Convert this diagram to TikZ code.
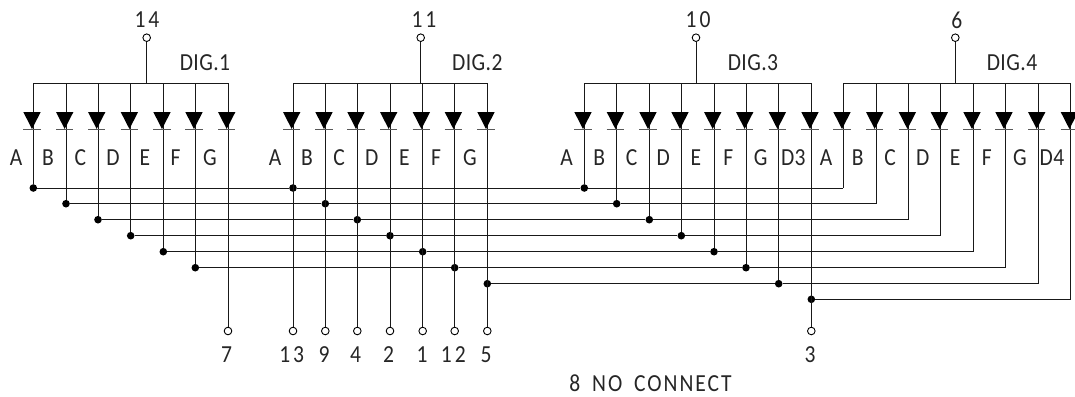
\documentclass[tikz,border=0pt]{standalone}
\usepackage{fontspec}
\newfontfamily\cadf[LetterSpace=2]{Carlito}
\newfontfamily\cadn[LetterSpace=14]{Carlito}
\newfontfamily\cadw[LetterSpace=9]{Carlito}
\tikzset{
  wire/.style={line width=1pt,black!90},
  jdot/.style={circle,fill=black,inner sep=0pt,minimum size=7.6pt},
  pad/.style={circle,draw=black,fill=white,line width=.9pt,inner sep=0pt,minimum size=7.6pt},
  lab/.style={font=\cadf\fontsize{24.5}{24.5}\selectfont,text=black!85,inner sep=0pt,xscale=.88,transform shape},
  num/.style={font=\cadn\fontsize{24.5}{24.5}\selectfont,text=black!85,inner sep=0pt,xscale=.88,transform shape},
  notelab/.style={font=\cadw\fontsize{24.5}{24.5}\selectfont,text=black!85,inner sep=0pt,xscale=.88,transform shape},
  dbar/.style={line width=.8pt,black!65},
}
\begin{document}
\begin{tikzpicture}[x=1pt,y=-1pt]
\useasboundingbox (0,0) rectangle (1075,396);
% digit common pads, stems and buses
\foreach \n/\sx/\xa/\xb/\t/\tx/\d/\dx in {
  1/146.7/33.3/228/14/147/DIG.1/205,
  2/420.7/293/487.3/11/424/DIG.2/477.3,
  3/696/584.3/811.3/10/698/DIG.3/753,
  4/955.3/843.3/1070.7/6/956.7/DIG.4/1012}{
  \node[pad] (com\n) at (\sx,37.7) {};
  \coordinate (st\n) at (\sx,83);
  \coordinate (bl\n) at (\xa,83);
  \coordinate (br\n) at (\xb,83);
  \draw[wire] (com\n) -- (st\n);
  \draw[wire] (bl\n) -- (br\n);
  \node[num] (t\n) at (\tx,20) {\t};
  \node[lab] (d\n) at (\dx,63) {\d};
}
% anode-side verticals ending at junction dots
\foreach \n/\x/\y in {
  1A/33.3/188,1B/66/203.7,1C/98/219.7,1D/130.7/235.7,1E/163.3/251.7,1F/195.3/267.7,
  3A/584.3/188,3B/616.7/203.7,3C/649.3/219.7,3D/681.3/235.7,3E/714/251.7,3F/746/267.7,3G/778.7/283.7}{
  \coordinate (top\n) at (\x,83);
  \node[jdot] (j\n) at (\x,\y) {};
  \draw[wire] (top\n) -- (j\n);
}
% verticals that run on to a numbered pin
\foreach \n/\x/\y/\p/\px in {
  2A/293/188/13/291.7,2B/325.3/203.7/9/324,2C/357.3/219.7/4/355.7,2D/390/235.7/2/388.7,
  2E/422.7/251.7/1/422,2F/454.7/267.7/12/453.3,2G/487.3/283.7/5/486,D3/811.3/299.3/3/810}{
  \coordinate (top\n) at (\x,83);
  \node[jdot] (j\n) at (\x,\y) {};
  \node[pad] (pin\n) at (\x,331) {};
  \draw[wire] (top\n) -- (pin\n);
  \node[num] (pl\n) at (\px,355) {\p};
}
% G of digit 1: pin without a junction
\coordinate (top1G) at (228,83);
\node[pad] (pin1G) at (228,331) {};
\draw[wire] (top1G) -- (pin1G);
\node[num] (pl1G) at (226.7,355) {7};
% digit 4 verticals ending in corners
\foreach \n/\x/\y in {
  4A/843.3/188,4B/876/203.7,4C/908.7/219.7,4D/940.7/235.7,4E/973.3/251.7,4F/1005.3/267.7,4G/1038/283.7,D4/1070.7/299.3}{
  \coordinate (top\n) at (\x,83);
  \coordinate (c\n) at (\x,\y);
  \draw[wire] (top\n) -- (c\n);
}
% segment buses
\draw[wire] (j1A) -- (j2A) -- (j3A) -- (c4A);
\draw[wire] (j1B) -- (j2B) -- (j3B) -- (c4B);
\draw[wire] (j1C) -- (j2C) -- (j3C) -- (c4C);
\draw[wire] (j1D) -- (j2D) -- (j3D) -- (c4D);
\draw[wire] (j1E) -- (j2E) -- (j3E) -- (c4E);
\draw[wire] (j1F) -- (j2F) -- (j3F) -- (c4F);
\draw[wire] (j2G) -- (j3G) -- (c4G);
\draw[wire] (jD3) -- (cD4);
% diodes
\foreach \x in {33.3,66,98,130.7,163.3,195.3,228,293,325.3,357.3,390,422.7,454.7,487.3,584.3,616.7,649.3,681.3,714,746,778.7,811.3,843.3,876,908.7,940.7,973.3,1005.3,1038,1070.7}{
  \fill[black] ({\x-10},112) -- ({\x+7.4},112) -- ({\x-1.3},129) -- cycle;
  \draw[dbar] ({\x-10},129.7) -- ({\x+7.4},129.7);
}
% segment letters
\foreach \s/\x in {A/16,B/48,C/80.3,D/113,E/145,F/175.7,G/210,
  A/275,B/307,C/339,D/371.7,E/404.3,F/436,G/470,
  A/566.7,B/599.3,C/631.7,D/663.3,E/696,F/728.3,G/760.7,D3/793.3,
  A/826,B/857.7,C/890,D/922.7,E/955,F/986.7,G/1020,D4/1052}{
  \node[lab] at (\x,158) {\s};
}
\node[notelab] (nc) at (650.5,383) {8\hspace{.55em}NO\hspace{.55em}CONNECT};
\end{tikzpicture}
\end{document}
